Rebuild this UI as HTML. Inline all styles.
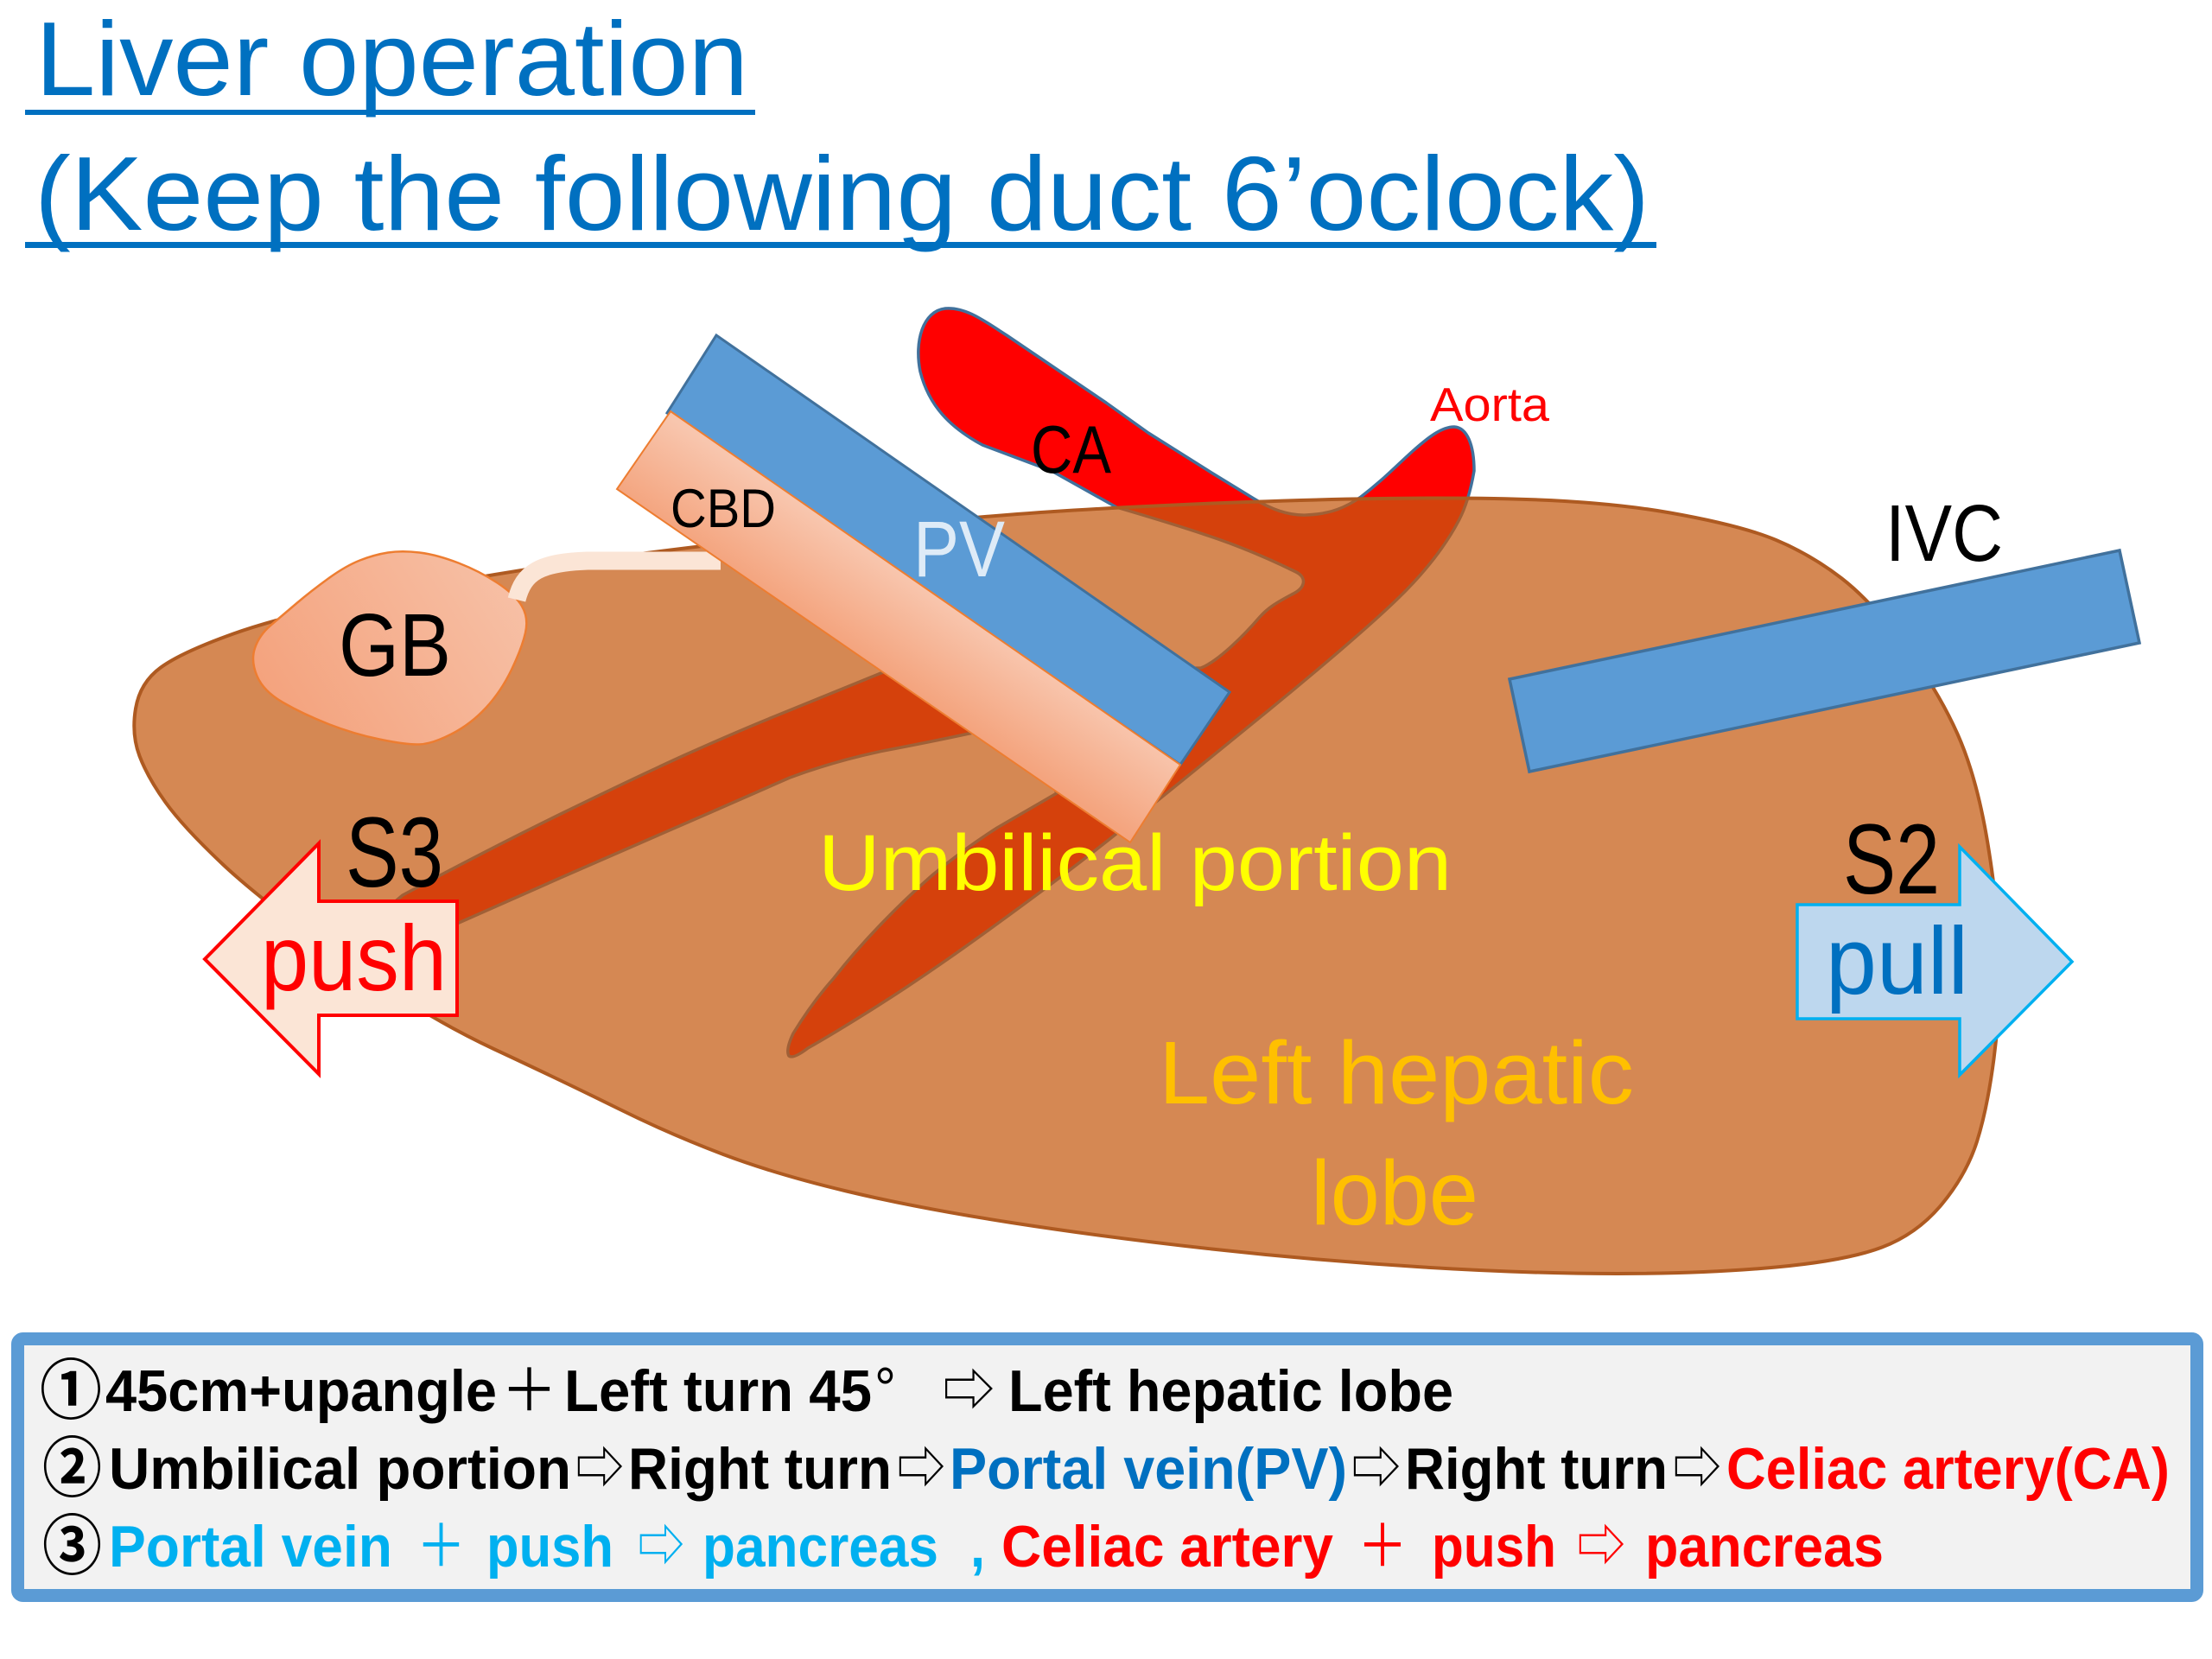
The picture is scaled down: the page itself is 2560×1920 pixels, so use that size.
<!DOCTYPE html>
<html>
<head>
<meta charset="utf-8">
<style>
html,body{margin:0;padding:0;background:#fff;}
svg{display:block;}
text{font-family:"Liberation Sans","Noto Sans CJK JP","DejaVu Sans",sans-serif;}
.b{font-weight:bold;font-size:68px;}
</style>
</head>
<body>
<svg width="2560" height="1920" viewBox="0 0 2560 1920" xmlns="http://www.w3.org/2000/svg">
<defs>
<linearGradient id="gcbd" gradientUnits="userSpaceOnUse" x1="1011" y1="770" x2="1071" y2="680">
<stop offset="0" stop-color="#f4a47e"/><stop offset="1" stop-color="#f8c6ae"/>
</linearGradient>
<linearGradient id="ggb" gradientUnits="userSpaceOnUse" x1="330" y1="830" x2="600" y2="660">
<stop offset="0" stop-color="#f4a37e"/><stop offset="1" stop-color="#f7c1a7"/>
</linearGradient>
</defs>

<!-- Title -->
<text x="41" y="110" font-size="122" fill="#0070c0" textLength="825" lengthAdjust="spacingAndGlyphs">Liver operation</text>
<rect x="29" y="127" width="845" height="6" fill="#0070c0"/>
<text x="40" y="266" font-size="122" fill="#0070c0" textLength="1869" lengthAdjust="spacingAndGlyphs">(Keep the following duct 6’oclock)</text>
<rect x="29" y="280" width="1888" height="7" fill="#0070c0"/>

<!-- Artery (behind liver) -->
<path fill="#ff0000" stroke="#41719c" stroke-width="3.5" stroke-linejoin="round" d="
M 1094,357
C 1118,355 1140,372 1165,388
L 1224,428 L 1280,466 L 1329,501 L 1402,547 L 1451,577
C 1472,590 1492,597 1512,596
C 1540,595 1558,587 1575,575
C 1600,556 1615,540 1635,522
C 1652,507 1668,494 1683,494
C 1698,495 1706,515 1706,545
Q 1700,580 1688.5,602
Q 1677,624 1659.5,646.5
Q 1642,669 1619,691.5
Q 1596,714 1553,751
Q 1510,788 1467,823
Q 1424,858 1381,893
Q 1338,928 1295,962.5
Q 1252,997 1194.5,1039.5
Q 1137,1082 1094,1112
Q 1051,1142 1008,1169
Q 965,1196 935,1213
Q 918,1226 913,1222
Q 909,1215 918,1196
Q 940,1160 965,1132
Q 990,1100 1022,1067
Q 1050,1038 1080,1012
Q 1115,983 1154,958
L 1223,918 L 1200,866 L 1126,848
Q 1080,858 1022,869
Q 965,881 914,900
L 816,943 L 653,1014 L 531,1068
L 480,1090 L 450,1105 L 415,1090 L 440,1058 L 466,1036
Q 571,980 653,940
Q 735,900 792,874
Q 850,848 893,830.5
Q 936,813 1022,778
L 1200,778 L 1390,773
C 1410,765 1440,735 1458,714
C 1468,703 1478,697 1495,688
C 1512,680 1512,668 1500,662
Q 1453,639 1410,624
Q 1367,609 1292,587
L 1217,545 L 1137,515
C 1100,495 1075,470 1065,430
C 1058,395 1068,360 1094,357 Z"/>

<!-- Liver (translucent) -->
<path fill="rgb(197,90,17)" fill-opacity="0.72" stroke="#ae5a21" stroke-width="4" d="
M 161.5,875 Q 152,850 157,820 Q 162,790 186,772.5 Q 210,755 270,733.5 Q 330,712 450.5,687.5
Q 571,663 693.5,647 Q 816,631 933,618 Q 1050,605 1165,596 Q 1280,587 1443.5,581
Q 1607,575 1729,577 Q 1851,579 1933,593.5 Q 2015,608 2055.5,625 Q 2096,642 2131,669
Q 2166,696 2204.5,747.5 Q 2243,799 2265.5,849.5 Q 2288,900 2300.5,976.5 Q 2313,1053 2314,1110.5
Q 2315,1168 2307.5,1225.5 Q 2300,1283 2288,1321 Q 2276,1359 2247.5,1393.5 Q 2219,1428 2178,1443.5
Q 2137,1459 2055.5,1466.5 Q 1974,1474 1872,1474 Q 1770,1474 1647.5,1466.5 Q 1525,1459 1402.5,1445.5
Q 1280,1432 1170.5,1415 Q 1061,1398 979.5,1378.5 Q 898,1359 837,1336 Q 776,1313 714.5,1282.5
Q 653,1252 571.5,1214 Q 490,1176 396,1109 Q 302,1042 257,999.5 Q 212,957 191.5,928.5 Q 171,900 161.5,875 Z"/>

<!-- GB -->
<path fill="url(#ggb)" stroke="#ed7d31" stroke-width="2.5" d="
M 449,639.5 Q 465,637 485.5,639.5 Q 506,642 530.5,651.5 Q 555,661 575.5,674.5 Q 596,688 604,701.5
Q 612,715 608,732.5 Q 604,750 592,775 Q 580,800 562.5,819 Q 545,838 522.5,849.5 Q 500,861 485,861.5
Q 470,862 439,855.5 Q 408,849 379,837.5 Q 350,826 327.5,813 Q 305,800 297.5,782.5 Q 290,765 295,750
Q 300,735 313.5,723.5 Q 327,712 343.5,698 Q 360,684 380,669.5 Q 400,655 416.5,648.5 Q 433,642 449,639.5 Z"/>
<!-- duct -->
<path d="M 598,694 C 606,662 625,651 680,649 L 834,649" fill="none" stroke="#fbe5d6" stroke-width="21"/>

<!-- PV -->
<polygon points="829,388 1423,801 1366,885 772,478" fill="#5b9bd5" stroke="#41719c" stroke-width="3"/>
<!-- CBD -->
<polygon points="776,476 1366,885 1308,975 714,566" fill="url(#gcbd)" stroke="#ed7d31" stroke-width="2"/>
<!-- IVC -->
<polygon points="1747,786 2453,637 2476,744 1770,893" fill="#5b9bd5" stroke="#41719c" stroke-width="3.5"/>

<!-- Arrows -->
<polygon points="237,1110 369,976 369,1043 529,1043 529,1175 369,1175 369,1243" fill="#fbe5d6" stroke="#ff0000" stroke-width="4"/>
<polygon points="2080,1047 2268,1047 2268,980 2398,1113 2268,1244 2268,1179 2080,1179" fill="#bdd7ee" stroke="#00b0f0" stroke-width="3.5"/>

<!-- Diagram labels -->
<text x="1193" y="547" font-size="78" fill="#000" textLength="93" lengthAdjust="spacingAndGlyphs">CA</text>
<text x="1655" y="487" font-size="55" fill="#ff0000" textLength="138" lengthAdjust="spacingAndGlyphs">Aorta</text>
<text x="776" y="610" font-size="63" fill="#000" textLength="122" lengthAdjust="spacingAndGlyphs">CBD</text>
<text x="1057" y="667" font-size="92" fill="#deebf7" textLength="106" lengthAdjust="spacingAndGlyphs">PV</text>
<text x="392" y="782" font-size="103" fill="#000" textLength="130" lengthAdjust="spacingAndGlyphs">GB</text>
<text x="2182" y="649" font-size="93" fill="#000" textLength="136" lengthAdjust="spacingAndGlyphs">IVC</text>
<text x="400" y="1026" font-size="115" fill="#000" textLength="113" lengthAdjust="spacingAndGlyphs">S3</text>
<text x="302" y="1146" font-size="108" fill="#ff0000" textLength="215" lengthAdjust="spacingAndGlyphs">push</text>
<text x="2133" y="1034" font-size="115" fill="#000" textLength="112" lengthAdjust="spacingAndGlyphs">S2</text>
<text x="2113" y="1150" font-size="110" fill="#0070c0" textLength="165" lengthAdjust="spacingAndGlyphs">pull</text>
<text x="947" y="1030" font-size="92" fill="#ffff00" textLength="733" lengthAdjust="spacingAndGlyphs">Umbilical portion</text>
<text x="1341" y="1277" font-size="103" fill="#ffc000" textLength="550" lengthAdjust="spacingAndGlyphs">Left hepatic</text>
<text x="1517" y="1417" font-size="106" fill="#ffc000" textLength="194" lengthAdjust="spacingAndGlyphs">lobe</text>

<!-- Bottom box -->
<rect x="20.5" y="1549.5" width="2522" height="297" rx="6" fill="#f2f2f2" stroke="#5b9bd5" stroke-width="15"/>

<!-- Line 1 -->
<g class="b" fill="#000">
<text x="46" y="1636" font-size="76" textLength="72" lengthAdjust="spacingAndGlyphs">①</text>
<text x="122" y="1633" textLength="453" lengthAdjust="spacingAndGlyphs">45cm+upangle</text>
<text x="580" y="1633" font-weight="normal" textLength="65" lengthAdjust="spacingAndGlyphs">＋</text>
<text x="653" y="1633" textLength="356" lengthAdjust="spacingAndGlyphs">Left turn 45</text>
<text x="1012" y="1630" font-weight="normal" textLength="25" lengthAdjust="spacingAndGlyphs">°</text>
<text x="1091" y="1633" font-weight="normal" textLength="60" lengthAdjust="spacingAndGlyphs">⇨</text>
<text x="1167" y="1633" textLength="515" lengthAdjust="spacingAndGlyphs">Left hepatic lobe</text>
</g>

<!-- Line 2 -->
<g class="b" fill="#000">
<text x="49" y="1726" font-size="76" textLength="69" lengthAdjust="spacingAndGlyphs">②</text>
<text x="126" y="1723" textLength="535" lengthAdjust="spacingAndGlyphs">Umbilical portion</text>
<text x="666" y="1723" font-weight="normal" textLength="56" lengthAdjust="spacingAndGlyphs">⇨</text>
<text x="727" y="1723" textLength="305" lengthAdjust="spacingAndGlyphs">Right turn</text>
<text x="1038" y="1723" font-weight="normal" textLength="56" lengthAdjust="spacingAndGlyphs">⇨</text>
<text x="1099" y="1723" fill="#0070c0" textLength="460" lengthAdjust="spacingAndGlyphs">Portal vein(PV)</text>
<text x="1564" y="1723" font-weight="normal" textLength="57" lengthAdjust="spacingAndGlyphs">⇨</text>
<text x="1626" y="1723" textLength="304" lengthAdjust="spacingAndGlyphs">Right turn</text>
<text x="1936" y="1723" font-weight="normal" textLength="56" lengthAdjust="spacingAndGlyphs">⇨</text>
<text x="1998" y="1723" fill="#ff0000" textLength="513" lengthAdjust="spacingAndGlyphs">Celiac artery(CA)</text>
</g>

<!-- Line 3 -->
<g class="b">
<text x="49" y="1816" font-size="76" fill="#000" textLength="69" lengthAdjust="spacingAndGlyphs">③</text>
<text x="126" y="1813" fill="#00b0f0" textLength="328" lengthAdjust="spacingAndGlyphs">Portal vein</text>
<text x="482" y="1813" fill="#00b0f0" font-weight="normal" textLength="57" lengthAdjust="spacingAndGlyphs">＋</text>
<text x="563" y="1813" fill="#00b0f0" textLength="147" lengthAdjust="spacingAndGlyphs">push</text>
<text x="738" y="1813" fill="#00b0f0" font-weight="normal" textLength="54" lengthAdjust="spacingAndGlyphs">⇨</text>
<text x="813" y="1813" fill="#00b0f0" textLength="273" lengthAdjust="spacingAndGlyphs">pancreas</text>
<text x="1123" y="1813" fill="#00b0f0" textLength="17" lengthAdjust="spacingAndGlyphs">,</text>
<text x="1159" y="1813" fill="#ff0000" textLength="384" lengthAdjust="spacingAndGlyphs">Celiac artery</text>
<text x="1571" y="1813" fill="#ff0000" font-weight="normal" textLength="58" lengthAdjust="spacingAndGlyphs">＋</text>
<text x="1657" y="1813" fill="#ff0000" textLength="144" lengthAdjust="spacingAndGlyphs">push</text>
<text x="1825" y="1813" fill="#ff0000" font-weight="normal" textLength="56" lengthAdjust="spacingAndGlyphs">⇨</text>
<text x="1904" y="1813" fill="#ff0000" textLength="276" lengthAdjust="spacingAndGlyphs">pancreas</text>
</g>
</svg>
</body>
</html>
